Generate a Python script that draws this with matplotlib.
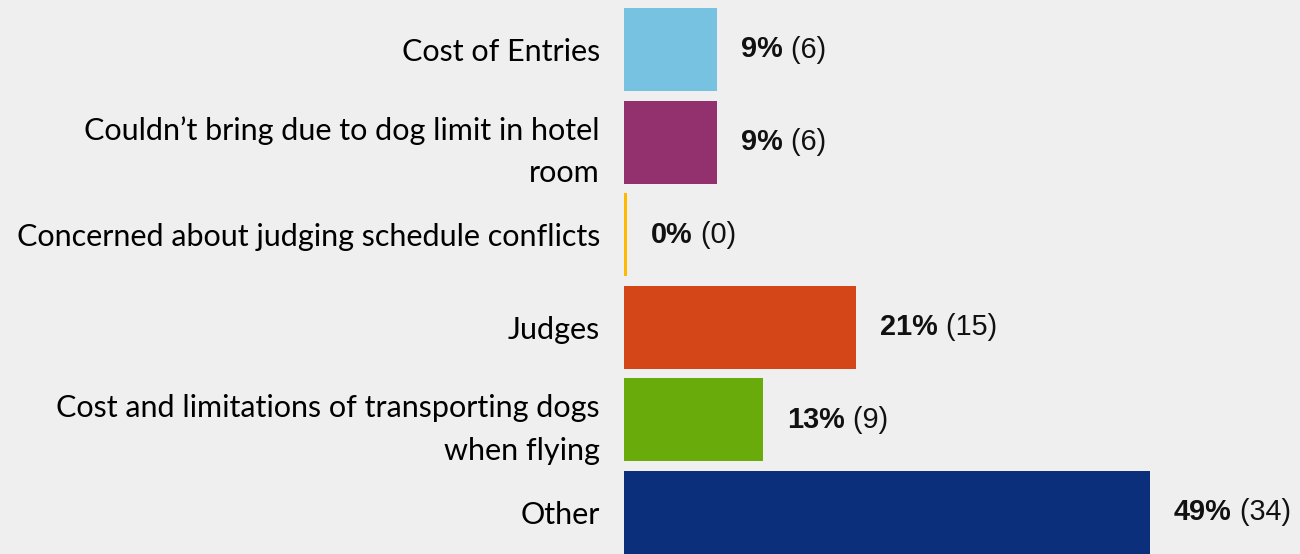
import matplotlib
matplotlib.use("Agg")
import matplotlib.pyplot as plt

# data (total of 70 responses)
categories = [
    "Cost of Entries",
    "Couldn\u2019t bring due to dog limit in hotel\nroom",
    "Concerned about judging schedule conflicts",
    "Judges",
    "Cost and limitations of transporting dogs\nwhen flying",
    "Other",
]
counts = [6, 6, 0, 15, 9, 34]
percents = [8.57, 8.57, 0.0, 21.43, 12.86, 48.57]
pct_labels = ["9%", "9%", "0%", "21%", "13%", "49%"]
colors = ["#77c1e1", "#93306e", "#ffb900", "#d44617", "#6aab0c", "#0c2f7b"]

BG = "#efefef"
W, H, DPI = 1300, 554, 100

fig = plt.figure(figsize=(W / DPI, H / DPI), dpi=DPI, facecolor=BG)

# axes starts where the bars start; rows are 92.6 px apart, first centre at 49.5 px
x0_px, row_px, first_px = 624, 92.6, 49.5
px_per_pct = 10.83
ax = fig.add_axes([x0_px / W, 0, 1 - x0_px / W, 1])
ax.set_facecolor(BG)
ax.set_xlim(0, (W - x0_px) / px_per_pct)
ax.set_ylim((H - first_px) / row_px, -first_px / row_px)

ypos = list(range(len(categories)))
bh = 83 / row_px
zero_w = 3 / px_per_pct  # zero bar is drawn as a thin line
widths = [p if p > 0 else zero_w for p in percents]
ax.barh(ypos, widths, height=bh, color=colors)

ax.set_yticks(ypos)
ax.set_yticklabels(categories, fontsize=22, family="Lato", linespacing=1.62)
ax.tick_params(axis="y", length=0, pad=24 * 72 / DPI)
ax.set_xticks([])
for s in ax.spines.values():
    s.set_visible(False)

for y, w, lab, n in zip(ypos, widths, pct_labels, counts):
    t = ax.annotate(lab, (w, y), xytext=(24 * 72 / DPI, 0), textcoords="offset points",
                    ha="left", va="center", fontsize=20.8, fontweight="bold",
                    family="Liberation Sans", color="#111111")
    ax.annotate(" (%d)" % n, (1, 0.5), xycoords=t, ha="left", va="center",
                fontsize=20.8, family="Liberation Sans", color="#111111")

fig.savefig("out.png", dpi=DPI, facecolor=BG)
